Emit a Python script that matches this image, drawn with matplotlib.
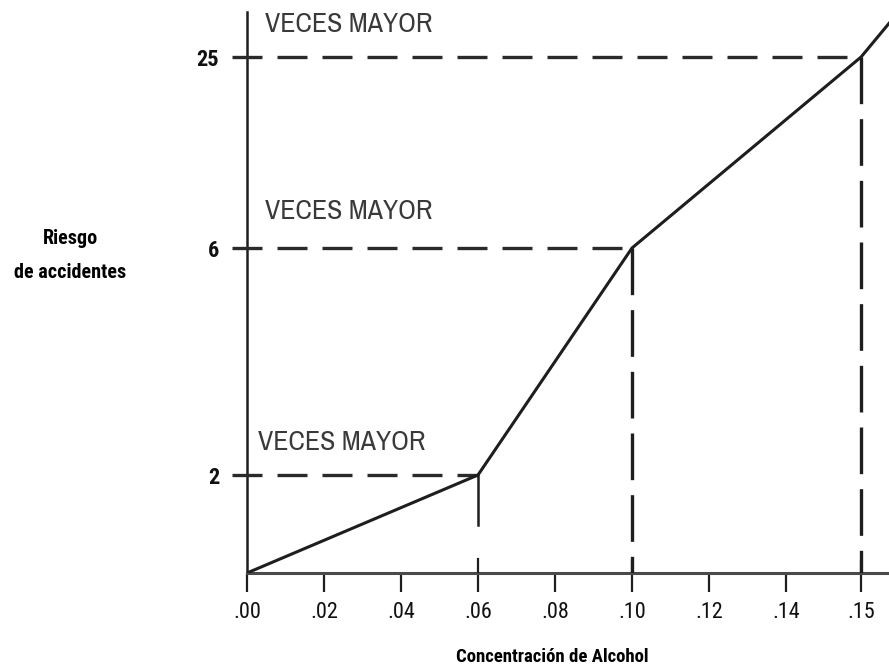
import numpy as np
import matplotlib
matplotlib.use("Agg")
import matplotlib.pyplot as plt
from matplotlib import font_manager

# ---------------- data ----------------
concentration = [0.00, 0.06, 0.10, 0.15, 0.155]   # last point: line continues off the frame
risk = [0, 2, 6, 25, 29.5]
marked_x = [0.06, 0.10, 0.15]
marked_y = [2, 6, 25]
x_ticks = [0.00, 0.02, 0.04, 0.06, 0.08, 0.10, 0.12, 0.14, 0.15]
x_tick_labels = [".00", ".02", ".04", ".06", ".08", ".10", ".12", ".14", ".15"]
y_ticks = [2, 6, 25]
y_tick_labels = ["2", "6", "25"]
annotation_text = "VECES MAYOR"
y_label_lines = ["Riesgo", "de accidentes"]
x_label = "Concentración de Alcohol"

# ---------------- fonts ----------------
names = {f.name for f in font_manager.fontManager.ttflist}


def pick(cands, default="DejaVu Sans"):
    for c in cands:
        if c in names:
            return [c, "DejaVu Sans"]
    return [default]


label_fam = pick(["Roboto Condensed", "Archivo Narrow", "PT Sans Narrow",
                  "Pragati Narrow", "Barlow Condensed", "Fira Sans Condensed",
                  "Liberation Sans Narrow", "Liberation Sans"])
thin_fam = pick(["Liberation Sans Narrow", "Arial Narrow", "Archivo Narrow", "PT Sans Narrow",
                 "Roboto Condensed", "Pragati Narrow", "Fira Sans Condensed", "Liberation Sans"])
tick_fam = pick(["Roboto Condensed", "Archivo Narrow", "PT Sans Narrow",
                 "Liberation Sans Narrow", "Liberation Sans"])


def piecewise(xp, fp):
    xp = np.asarray(xp, float)
    fp = np.asarray(fp, float)

    def f(v):
        v = np.asarray(v, float)
        out = np.interp(v, xp, fp)
        s0 = (fp[1] - fp[0]) / (xp[1] - xp[0])
        s1 = (fp[-1] - fp[-2]) / (xp[-1] - xp[-2])
        out = np.where(v < xp[0], fp[0] + (v - xp[0]) * s0, out)
        out = np.where(v > xp[-1], fp[-1] + (v - xp[-1]) * s1, out)
        return out
    return f


def sc(f, v):
    return float(np.ravel(f(np.array([v], float)))[0])


# non-uniform axes of the original drawing
x_fwd = piecewise([0.0, 0.14, 0.15], [0.0, 0.14, 0.1595])
x_inv = piecewise([0.0, 0.14, 0.1595], [0.0, 0.14, 0.15])
y_fwd = piecewise([0, 2, 6, 25], [0, 98, 325, 516])
y_inv = piecewise([0, 98, 325, 516], [0, 2, 6, 25])

W, H = 889, 668
fig = plt.figure(figsize=(W / 100, H / 100), dpi=100)
L, R, T, B = 247, 889, 12, 573
ax = fig.add_axes([L / W, (H - B) / H, (R - L) / W, (B - T) / H])
ax.set_xscale("function", functions=(x_fwd, x_inv))
ax.set_yscale("function", functions=(y_fwd, y_inv))

ax.set_xlim(0.0, sc(x_inv, (R - L) / 3850.0))
ax.set_ylim(0, sc(y_inv, float(B - T)))

ink = "#1e1e1e"
dash_col = "#2a2a2a"

# main line
ax.plot(concentration, risk, color=ink, lw=2.2, solid_capstyle="round", zorder=5)

# horizontal dashed guides starting a little left of the y axis
x_left = sc(x_inv, -15 / 3850.0)
for xv, yv in zip(marked_x, marked_y):
    ax.plot([x_left, xv], [yv, yv], color=dash_col, lw=2.4,
            dashes=(9, 4.5), clip_on=False, zorder=3)

# vertical guides
ax.plot([marked_x[0], marked_x[0]], [marked_y[0], sc(y_inv, 48.0)],
        color=ink, lw=1.8, zorder=3)
for xv, yv in zip(marked_x[1:], marked_y[1:]):
    ax.plot([xv, xv], [yv, 0], color=ink, lw=2.4, dashes=(14, 4.5), zorder=3)
    ax.plot([xv, xv], [0, sc(y_inv, 12.0)], color=ink, lw=1.6, zorder=3)
ax.plot([marked_x[0], marked_x[0]], [0, sc(y_inv, 14.0)],
        color=ink, lw=1.6, zorder=3)

# spines
for s in ["top", "right"]:
    ax.spines[s].set_visible(False)
ax.spines["bottom"].set_color("#4a4a4a")
ax.spines["bottom"].set_linewidth(2.2)
ax.spines["left"].set_color(ink)
ax.spines["left"].set_linewidth(1.8)

ax.set_xticks(x_ticks)
ax.set_xticklabels(x_tick_labels, family=tick_fam, fontsize=16, fontweight="normal",
                   color="#111111")
ax.tick_params(axis="x", direction="out", length=14, width=1.6, color=ink, pad=7)
ax.set_yticks(y_ticks)
ax.set_yticklabels(y_tick_labels, family=tick_fam,
                   fontsize=16, fontweight="bold", color="#111111")
ax.tick_params(axis="y", length=0, pad=20)
ax.minorticks_off()

# annotations
for (xf, yf) in [(0.028, 0.977), (0.028, 0.6435), (0.017, 0.2335)]:
    ax.text(xf, yf, annotation_text, transform=ax.transAxes, family=thin_fam,
            fontsize=20, color="#3a3a3a", ha="left", va="center")

# outer labels
fig.text(70 / W, (H - 238) / H, y_label_lines[0], family=label_fam, fontweight="bold",
         fontsize=14.5, ha="center", va="center", color="black")
fig.text(70 / W, (H - 273) / H, y_label_lines[1], family=label_fam, fontweight="bold",
         fontsize=14.5, ha="center", va="center", color="black")
fig.text(552 / W, (H - 657) / H, x_label, family=label_fam, fontweight="bold",
         fontsize=13.5, ha="center", va="center", color="black")

fig.savefig("out.png", dpi=100)
